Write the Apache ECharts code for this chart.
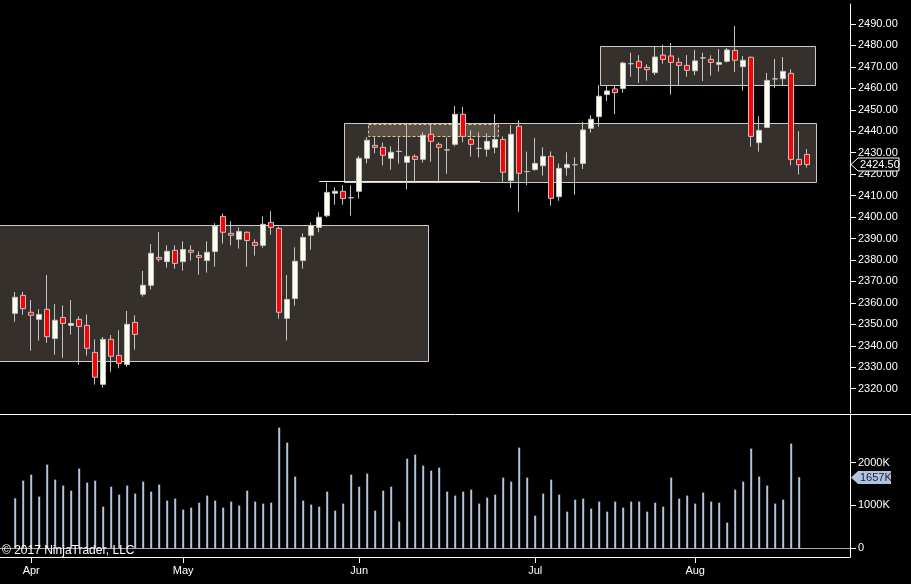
<!DOCTYPE html>
<html><head><meta charset="utf-8">
<script src="https://cdn.jsdelivr.net/npm/echarts@6/dist/echarts.min.js"></script>
<style>html,body{margin:0;padding:0;background:#000;overflow:hidden}#c{width:911px;height:584px}</style>
</head><body><div id="c"></div>
<script>
// ---- data ----
const firstDate = '2017-03-30';
const holidays = ['2017-04-14','2017-05-29','2017-07-04'];
const monthNames = ['Jan','Feb','Mar','Apr','May','Jun','Jul','Aug','Sep','Oct','Nov','Dec'];
const opens = [2355.1,2363.5,2355.6,2352.3,2357.0,2343.4,2353.2,2349.5,2352.3,2349.5,
2336.9,2322.0,2343.0,2335.5,2331.3,2350.9,2364.0,2368.2,2381.2,2379.2,
2384.5,2379.2,2384.5,2382.1,2379.7,2383.9,2400.3,2392.4,2389.6,2392.9,
2388.2,2386.8,2397.5,2394.7,2352.8,2362.0,2379.7,2391.5,2395.2,2400.6,
2411.1,2412.0,2409.0,2412.0,2427.4,2433.4,2432.5,2427.4,2430.6,2425.5,
2428.3,2426.9,2438.6,2433.9,2431.3,2433.9,2447.9,2436.2,2432.0,2431.6,
2432.5,2436.2,2417.0,2442.3,2421.2,2422.1,2423.9,2428.3,2409.5,2423.0,
2424.4,2425.0,2441.4,2446.8,2457.1,2459.7,2459.9,2471.5,2472.6,2469.8,
2467.3,2475.5,2475.1,2472.1,2470.7,2468.2,2474.2,2473.5,2471.2,2472.6,
2477.7,2470.1,2474.5,2434.7,2441.8,2464.4,2464.5,2467.0,2426.9,2429.2];
const closes = [2362.6,2357.3,2354.2,2354.6,2344.2,2351.9,2350.4,2350.4,2349.0,2338.8,
2325.3,2343.0,2335.1,2331.8,2350.0,2345.3,2368.2,2383.1,2380.3,2384.0,
2378.4,2384.9,2383.6,2381.2,2383.6,2395.8,2392.9,2391.5,2393.3,2389.1,
2386.8,2396.6,2395.2,2355.6,2361.6,2379.4,2390.5,2396.1,2399.9,2411.5,
2412.0,2408.6,2409.0,2427.4,2435.8,2432.5,2428.8,2430.2,2430.6,2428.3,
2426.9,2438.1,2435.3,2432.5,2431.3,2447.9,2437.6,2433.9,2432.0,2435.3,
2436.2,2420.9,2438.6,2420.4,2421.2,2425.0,2428.3,2408.7,2422.7,2424.6,
2424.4,2440.6,2445.6,2456.3,2458.8,2458.0,2471.8,2471.5,2469.6,2468.7,
2474.6,2473.5,2472.1,2470.7,2468.4,2472.8,2474.2,2472.1,2472.1,2477.9,
2473.1,2473.1,2437.6,2440.4,2463.7,2464.4,2467.9,2426.9,2424.4,2424.5];
const lows = [2351.2,2354.5,2337.7,2342.4,2341.4,2335.8,2334.4,2345.2,2331.2,2335.4,
2321.9,2320.5,2327.9,2329.5,2330.2,2338.2,2362.9,2366.2,2379.2,2376.4,
2375.9,2375.0,2379.7,2373.1,2374.1,2376.9,2387.6,2386.7,2385.3,2376.9,
2382.0,2385.7,2391.8,2352.6,2342.5,2358.7,2375.9,2384.8,2392.9,2399.9,
2405.8,2405.8,2400.6,2408.6,2425.0,2429.7,2424.0,2422.1,2424.9,2412.8,
2416.8,2425.4,2425.8,2416.5,2420.2,2433.0,2434.8,2428.2,2427.8,2428.2,
2429.7,2416.5,2413.5,2402.5,2414.9,2421.6,2419.3,2405.3,2407.6,2419.3,
2410.4,2422.4,2439.3,2442.1,2454.1,2448.0,2458.0,2465.4,2462.5,2463.6,
2466.2,2471.5,2457.1,2461.6,2465.4,2466.2,2463.4,2465.9,2467.8,2472.0,
2467.6,2458.9,2432.8,2430.5,2441.5,2460.2,2461.3,2424.0,2419.8,2423.0];
const highs = [2365.1,2365.1,2361.3,2357.1,2373.0,2359.5,2358.8,2361.3,2353.7,2354.6,
2343.0,2344.1,2345.0,2347.2,2356.2,2354.2,2374.9,2387.4,2393.0,2386.8,
2386.8,2388.7,2386.8,2384.0,2388.7,2397.1,2401.7,2398.0,2395.2,2393.3,
2389.6,2400.3,2402.7,2395.5,2373.0,2385.9,2392.4,2397.5,2402.2,2415.9,
2413.9,2414.8,2414.8,2428.5,2437.2,2437.2,2434.8,2433.0,2437.2,2443.7,
2429.2,2439.5,2443.7,2434.8,2437.2,2451.8,2451.3,2440.4,2439.5,2439.0,
2448.0,2437.6,2442.9,2445.1,2430.5,2436.9,2432.5,2430.6,2425.0,2430.2,
2427.8,2444.4,2447.5,2461.6,2461.3,2461.3,2472.4,2476.6,2475.5,2471.2,
2479.4,2480.4,2481.1,2474.3,2475.5,2477.9,2476.6,2475.4,2478.3,2478.8,
2489.1,2475.1,2474.8,2447.0,2467.2,2473.7,2474.6,2468.9,2440.1,2431.7];
// volume in thousands of contracts (last bar has no volume shown)
const volumes = [1166,1577,1717,1204,1950,1600,1461,1344,1857,1531,
1577,971,1437,1251,1461,1274,1554,1321,1484,1111,
1158,901,948,1064,1228,1111,948,1088,995,1344,
1088,1041,1064,2813,2463,1671,1111,1018,971,1321,
878,1041,1717,1437,1740,878,1344,1437,622,2090,
2183,1927,1810,1880,1321,1228,1321,1367,1041,1181,
1251,1647,1554,2346,1647,761,1274,1600,1251,854,
1134,1158,924,1088,854,1088,948,1088,1088,854,
1064,971,1647,1158,1228,1041,1298,1088,1064,599,
1367,1554,2323,1671,1461,1041,1134,2440,1657,null];
const priceTicks = [2320,2330,2340,2350,2360,2370,2380,2390,2400,2410,2420,2430,2440,2450,2460,2470,2480,2490];
const volumeTicks = [0,1000,2000];
// drawn rectangles: [startBar, endBar, lowPrice, highPrice]
const zoneBoxes = [[-3,51.6,2332.75,2396.2],[41.04,100.09,2416.2,2443.7],[73.04,99.96,2461.4,2479.6]];
const dashedBoxes = [[44.16,60.34,2437.8,2443.6]];
const hLines = [[38.0,58.1,2416.8]];

// trading-day categories
const dates = [];
(function(){
  const d = new Date(firstDate + 'T12:00:00Z');
  while (dates.length < opens.length) {
    const s = d.toISOString().slice(0,10);
    const wd = d.getUTCDay();
    if (wd !== 0 && wd !== 6 && holidays.indexOf(s) < 0) dates.push(s);
    d.setUTCDate(d.getUTCDate()+1);
  }
})();
const monthStarts = [];
for (let i = 1; i < dates.length; i++) if (dates[i].slice(5,7) !== dates[i-1].slice(5,7)) monthStarts.push(i);

const candleData = dates.map((d,i)=>[i, opens[i], closes[i], lows[i], highs[i]]);
const volData = volumes.map((v,i)=>[i, v]);

const FONT = '"Liberation Sans", Arial, sans-serif';
const XMIN = -1.9, XMAX = 104.35;

const chart = echarts.init(document.getElementById('c'), null, {renderer:'canvas'});

function boxRender(stroke, fill, dash){
  return function(params, api){
    const a = api.coord([api.value(0), api.value(3)]);
    const b = api.coord([api.value(1), api.value(2)]);
    const x0 = Math.round(a[0])+0.5, y0 = Math.round(a[1])+0.5;
    const x1 = Math.round(b[0])+0.5, y1 = Math.round(b[1])+0.5;
    return {type:'rect', shape:{x:x0,y:y0,width:x1-x0,height:y1-y0},
      style:{fill:fill, stroke:stroke, lineWidth:1, lineDash:dash||null}};
  };
}

function tagRender(text, fill, stroke, color, w){
  return function(params, api){
    const cs = params.coordSys;
    const p = api.coord([api.value(0), api.value(1)]);
    const y = Math.round(p[1])+0.5;
    const xt = cs.x + cs.width + 1;
    const h = 6.5;
    return {type:'group', children:[
      {type:'polygon', shape:{points:[[xt,y],[xt+7,y-h],[xt+7+w,y-h],[xt+7+w,y+h],[xt+7,y+h]]},
       style:{fill:fill, stroke:stroke, lineWidth:stroke?1:0}},
      {type:'text', style:{text:text, x:xt+9, y:y, fill:color, font:'11px '+FONT, verticalAlign:'middle', align:'left'}}
    ]};
  };
}

const lastIdx = closes.length-1;
let lastVolIdx = volumes.length-1; while (volumes[lastVolIdx] == null) lastVolIdx--;

chart.setOption({
  backgroundColor:'#000',
  animation:false,
  textStyle:{fontFamily:FONT},
  grid:[
    {left:0, top:4, width:850, height:409},
    {left:0, top:414, width:850, height:143}
  ],
  xAxis:[
    {type:'value', gridIndex:0, min:XMIN, max:XMAX, show:false},
    {type:'value', gridIndex:1, min:XMIN, max:XMAX, position:'bottom',
     axisLine:{show:true, onZero:false, lineStyle:{color:'#fff', width:1}},
     axisTick:{show:true, inside:false, length:6, lineStyle:{color:'#fff'}, customValues:monthStarts},
     axisLabel:{show:true, color:'#fff', fontSize:11, fontFamily:FONT, margin:8, customValues:monthStarts,
       formatter:v=>monthNames[parseInt(dates[Math.round(v)].slice(5,7),10)-1]},
     splitLine:{show:false}}
  ],
  yAxis:[
    {type:'value', gridIndex:0, position:'right', min:2308.65, max:2499.32,
     axisLine:{show:true, onZero:false, lineStyle:{color:'#fff'}},
     axisTick:{show:true, inside:false, length:6, lineStyle:{color:'#fff'}, customValues:priceTicks},
     axisLabel:{show:true, color:'#fff', fontSize:11, fontFamily:FONT, margin:8, customValues:priceTicks,
       formatter:v=>v.toFixed(2)},
     splitLine:{show:false}},
    {type:'value', gridIndex:1, position:'right', min:-203, max:3130,
     axisLine:{show:true, onZero:false, lineStyle:{color:'#fff'}},
     axisTick:{show:true, inside:false, length:6, lineStyle:{color:'#fff'}, customValues:volumeTicks},
     axisLabel:{show:true, color:'#fff', fontSize:11, fontFamily:FONT, margin:8, customValues:volumeTicks,
       formatter:v=>v===0?'0':v+'K'},
     splitLine:{show:false}}
  ],
  graphic:[
    {type:'line', shape:{x1:0,y1:414.5,x2:911,y2:414.5}, style:{stroke:'#fff', lineWidth:1}, z:10},
    {type:'text', left:2, top:545, z:10, style:{text:'\u00a9 2017 NinjaTrader, LLC', fill:'#fff', font:'12px '+FONT}}
  ],
  series:[
    {type:'custom', name:'zones', xAxisIndex:0, yAxisIndex:0, clip:true, z:1, silent:true,
     data:zoneBoxes, encode:{x:[0,1], y:[2,3]}, renderItem:boxRender('#c8ccd2','#35302b')},
    {type:'custom', name:'dashed', xAxisIndex:0, yAxisIndex:0, clip:true, z:1.5, silent:true,
     data:dashedBoxes, encode:{x:[0,1], y:[2,3]}, renderItem:boxRender('#e9c28e','#5b5046',[3,2])},
    {type:'custom', name:'hline', xAxisIndex:0, yAxisIndex:0, clip:true, z:1.6, silent:true,
     data:hLines, encode:{x:[0,1], y:2},
     renderItem:function(params, api){
       const a = api.coord([api.value(0), api.value(2)]);
       const b = api.coord([api.value(1), api.value(2)]);
       const y = Math.round(a[1])+0.5;
       return {type:'line', shape:{x1:a[0],y1:y,x2:b[0],y2:y}, style:{stroke:'#f4f1e0', lineWidth:1}};
     }},
    {type:'candlestick', name:'price', xAxisIndex:0, yAxisIndex:0, z:3,
     data:candleData, encode:{x:0, y:[1,2,3,4]}, barWidth:6,
     itemStyle:{color:'#fffff0', color0:'#ff0000', borderColor:'#c3c3c3', borderColor0:'#c3c3c3', borderColorDoji:'#c3c3c3', borderWidth:1}},
    {type:'bar', name:'volume', xAxisIndex:1, yAxisIndex:1, barWidth:2, z:3,
     data:volData, encode:{x:0, y:1}, itemStyle:{color:'#b0c4de'},
     markLine:{silent:true, symbol:'none', label:{show:false}, lineStyle:{color:'#a9a9a9', type:'solid', width:1},
       data:[{yAxis:0}]}},
    {type:'custom', name:'lastPrice', xAxisIndex:0, yAxisIndex:0, clip:false, z:20, silent:true,
     data:[[lastIdx, closes[lastIdx]]], encode:{x:0,y:1},
     renderItem:tagRender(closes[lastIdx].toFixed(2), '#000', '#fff', '#fff', 41)},
    {type:'custom', name:'lastVol', xAxisIndex:1, yAxisIndex:1, clip:false, z:20, silent:true,
     data:[[lastVolIdx, volumes[lastVolIdx]]], encode:{x:0,y:1},
     renderItem:tagRender(volumes[lastVolIdx]+'K', '#b0c4de', null, '#1c1c3c', 33)}
  ]
});
</script>
</body></html>
